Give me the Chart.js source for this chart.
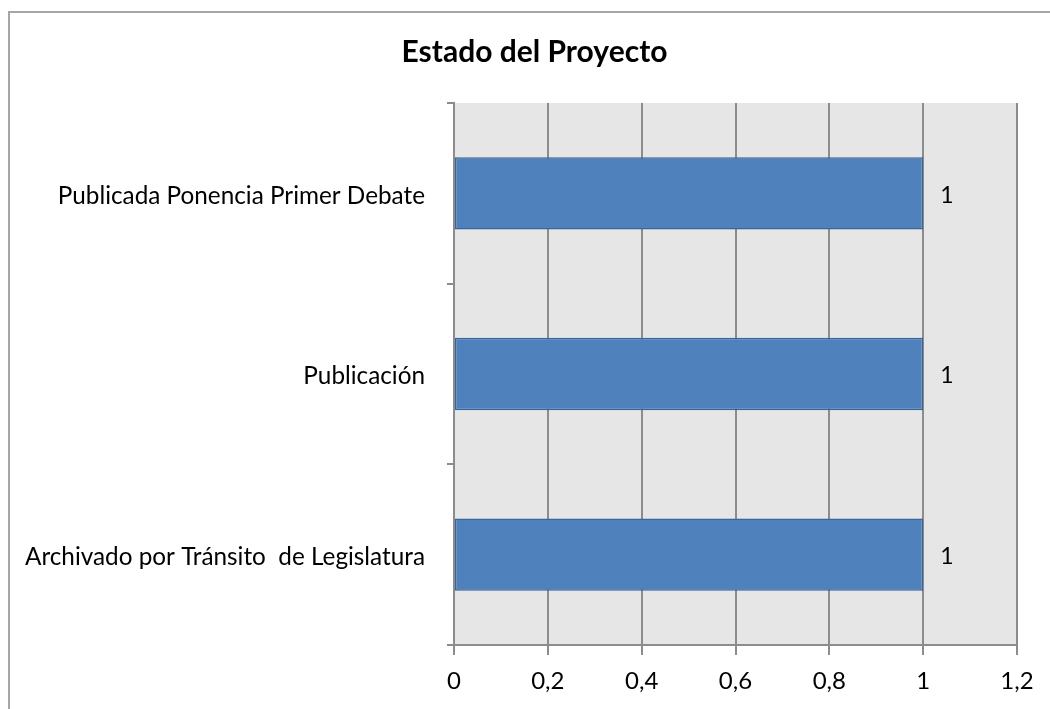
<!DOCTYPE html>
<html>
<head>
<meta charset="utf-8">
<script src="https://cdn.jsdelivr.net/npm/chart.js@4.4.1/dist/chart.umd.min.js"></script>
<style>
  html, body { margin: 0; padding: 0; background: #ffffff; }
  #wrap { width: 1050px; height: 709px; position: relative; }
</style>
</head>
<body>
<div id="wrap"><canvas id="chart" width="1050" height="709"></canvas></div>
<script>
// Project status counts
const categories = [
  'Publicada Ponencia Primer Debate',
  'Publicación',
  'Archivado por Tránsito  de Legislatura'
];
const counts = [1, 1, 1];
const xTickMin = 0;
const xTickMax = 1.2;
const xTickStep = 0.2;
const chartTitle = 'Estado del Proyecto';

const FONT = 'Lato, "Open Sans", sans-serif';
const GRID = '#8c8c8c';

// Grey plot background, the outer chart frame and the title centred on the frame
const framePlugin = {
  id: 'frame',
  beforeDraw(chart) {
    const { ctx, chartArea: a } = chart;
    ctx.save();
    ctx.fillStyle = '#ffffff';
    ctx.fillRect(0, 0, chart.width, chart.height);
    ctx.strokeStyle = '#a6a6a6';
    ctx.lineWidth = 2;
    ctx.strokeRect(9, 12, chart.width + 20, chart.height + 20);
    ctx.fillStyle = '#e6e6e6';
    ctx.fillRect(a.left, a.top, a.right - a.left, a.bottom - a.top);
    ctx.fillStyle = '#000000';
    ctx.font = 'bold 30px ' + FONT;
    ctx.textAlign = 'center';
    ctx.textBaseline = 'middle';
    ctx.fillText(chartTitle, 534.5, 52);
    ctx.restore();
  }
};

// Value labels to the right of each bar
const valueLabels = {
  id: 'valueLabels',
  afterDatasetsDraw(chart) {
    const { ctx } = chart;
    const meta = chart.getDatasetMeta(0);
    ctx.save();
    ctx.fillStyle = '#000000';
    ctx.font = '23px ' + FONT;
    ctx.textAlign = 'left';
    ctx.textBaseline = 'middle';
    meta.data.forEach((bar, i) => {
      ctx.fillText(String(counts[i]), bar.x + 17, bar.y + 2);
    });
    ctx.restore();
  }
};

new Chart(document.getElementById('chart'), {
  type: 'bar',
  data: {
    labels: categories,
    datasets: [{
      data: counts,
      backgroundColor: '#4f81bd',
      borderColor: '#3b6497',
      borderWidth: 1.5,
      borderSkipped: false,
      categoryPercentage: 0.4,
      barPercentage: 1.0
    }]
  },
  options: {
    indexAxis: 'y',
    responsive: false,
    animation: false,
    layout: { padding: { top: 103, right: 33, bottom: 0, left: 0 } },
    plugins: {
      legend: { display: false },
      tooltip: { enabled: false },
      title: { display: false }
    },
    scales: {
      x: {
        min: xTickMin,
        max: xTickMax,
        ticks: {
          stepSize: xTickStep,
          color: '#000000',
          font: { family: FONT, size: 24 },
          padding: 12,
          callback: v => Number(v.toFixed(1)).toString().replace('.', ',')
        },
        grid: { color: GRID, lineWidth: 2, tickLength: 10, drawOnChartArea: true },
        border: { color: GRID, width: 2 },
        afterFit: s => { s.height = 64; }
      },
      y: {
        offset: true,
        ticks: {
          color: '#000000',
          font: { family: FONT, size: 24.3 },
          padding: 22,
          labelOffset: 2.5,
          crossAlign: 'near'
        },
        grid: { offset: true, color: GRID, lineWidth: 2, tickLength: 7, drawOnChartArea: false },
        border: { color: GRID, width: 2 },
        afterFit: s => { s.width = 454; }
      }
    }
  },
  plugins: [framePlugin, valueLabels]
});
</script>
</body>
</html>
